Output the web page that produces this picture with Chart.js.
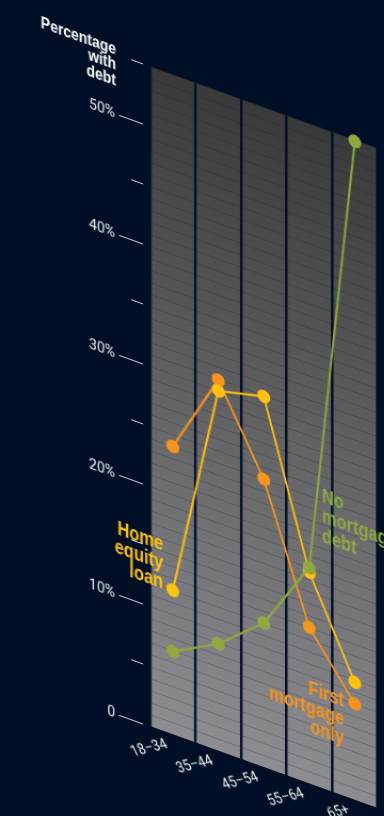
<!DOCTYPE html>
<html lang="en">
<head>
<meta charset="UTF-8">
<title>Percentage with debt</title>
<script src="https://cdn.jsdelivr.net/npm/chart.js"></script>
<style>
    html, body {
        margin: 0;
        padding: 0;
        background: #000f26;
        overflow: hidden;
    }
    body {
        width: 384px;
        height: 816px;
    }
    /* the whole chart sits on a sheared plane */
    .plane {
        position: absolute;
        left: 0;
        top: 0;
        width: 384px;
        height: 720px;
        transform: skewY(19.8deg);
        transform-origin: 0 0;
    }
</style>
</head>
<body>
<div class="plane"><canvas id="debtChart" width="384" height="720"></canvas></div>
<script>
    const ageGroups = ['18–34', '35–44', '45–54', '55–64', '65+'];
    const firstMortgageOnly = [24, 30.9, 24, 13, 8];
    const homeEquityLoan = [12, 30, 30.9, 17.6, 9.8];
    const noMortgageDebt = [6.9, 8.9, 12, 18, 54.9];
    const percentTicks = ['0', '10%', '20%', '30%', '40%', '50%'];

    const bg = '#000f26';
    const orange = '#f7941d';
    const yellow = '#ffc20e';
    const green = '#8fa940';
    const tickFont = 'Roboto, "DejaVu Sans Condensed", sans-serif';
    const boldFont = '"Liberation Sans", Arial, sans-serif';

    Chart.defaults.font.family = tickFont;

    // grey panel behind the plot
    const panel = {
        id: 'panel',
        beforeDraw(chart) {
            const { ctx, chartArea: a } = chart;
            const g = ctx.createLinearGradient(0, a.top, 0, a.bottom);
            g.addColorStop(0, '#3a3a3a');
            g.addColorStop(1, '#8d8d92');
            ctx.save();
            ctx.fillStyle = g;
            ctx.fillRect(a.left, a.top, a.right - a.left, a.bottom - a.top);
            ctx.restore();
        }
    };

    // axis title and the series names, set in a narrowed bold face
    const notes = {
        id: 'notes',
        afterDatasetsDraw(chart) {
            const ctx = chart.ctx;
            const put = (lines, x, y, lh, align, color, size, squeeze) => {
                ctx.save();
                ctx.translate(x, y);
                ctx.scale(squeeze, 1);
                ctx.font = 'bold ' + size + 'px ' + boldFont;
                ctx.fillStyle = color;
                ctx.textAlign = align;
                ctx.textBaseline = 'alphabetic';
                lines.forEach((t, i) => ctx.fillText(t, 0, i * lh));
                ctx.restore();
            };
            put(['Percentage', 'with', 'debt'], 116, 12.5, 15.5, 'right', '#ffffff', 17, 0.82);
            put(['Home', 'equity', 'loan'], 163, 492, 19, 'right', yellow, 21, 0.78);
            put(['No', 'mortgage', 'debt'], 322, 386, 20, 'left', green, 21, 0.78);
            put(['First', 'mortgage', 'only'], 344, 583, 19, 'right', orange, 21, 0.78);
        }
    };

    function series(label, data, color, order) {
        return {
            label: label,
            data: data,
            borderColor: color,
            backgroundColor: color,
            borderWidth: 2,
            pointRadius: 6.5,
            pointBorderWidth: 0,
            pointHoverRadius: 6.5,
            order: order,
            clip: false,
            yAxisID: 'y'
        };
    }

    new Chart(document.getElementById('debtChart'), {
        type: 'line',
        data: {
            labels: ageGroups,
            datasets: [
                series('No mortgage debt', noMortgageDebt, green, 0),
                series('Home equity loan', homeEquityLoan, yellow, 1),
                series('First mortgage only', firstMortgageOnly, orange, 2)
            ]
        },
        options: {
            responsive: false,
            animation: false,
            layout: { padding: { top: 12, right: 6, left: 0, bottom: 0 } },
            plugins: {
                legend: { display: false },
                tooltip: { enabled: false }
            },
            scales: {
                x: {
                    offset: true,
                    grid: { offset: true, color: bg, lineWidth: 2.5, drawTicks: false },
                    border: { display: false },
                    ticks: {
                        color: '#eef0f3',
                        font: { size: 14 },
                        minRotation: 31,
                        maxRotation: 31,
                        autoSkip: false,
                        padding: 5,
                        labelOffset: -6
                    },
                    afterFit(s) { s.height = 48; }
                },
                y: {
                    min: 0,
                    max: 55,
                    position: 'left',
                    weight: 0,
                    ticks: { display: false, stepSize: 1 },
                    grid: { color: 'rgba(25,25,30,0.22)', lineWidth: 1, borderDash: [5, 3], drawTicks: false },
                    border: { display: false },
                    afterFit(s) { s.width = 7; }
                },
                yTicks: {
                    min: 0,
                    max: 55,
                    position: 'left',
                    weight: 1,
                    ticks: {
                        stepSize: 5,
                        color: '#eef0f3',
                        font: { size: 14 },
                        padding: 4,
                        callback: v => v % 10 ? '' : percentTicks[v / 10]
                    },
                    grid: {
                        drawOnChartArea: false,
                        tickLength: 24,
                        tickColor: '#c9ccd2',
                        tickWidth: 1,
                        tickBorderDash: c => c.tick && c.tick.value % 10 ? [12, 12] : [],
                        tickBorderDashOffset: c => c.tick && c.tick.value % 10 ? 12 : 0
                    },
                    border: { display: false },
                    afterFit(s) { s.width = 143; }
                }
            }
        },
        plugins: [panel, notes]
    });
</script>
</body>
</html>
